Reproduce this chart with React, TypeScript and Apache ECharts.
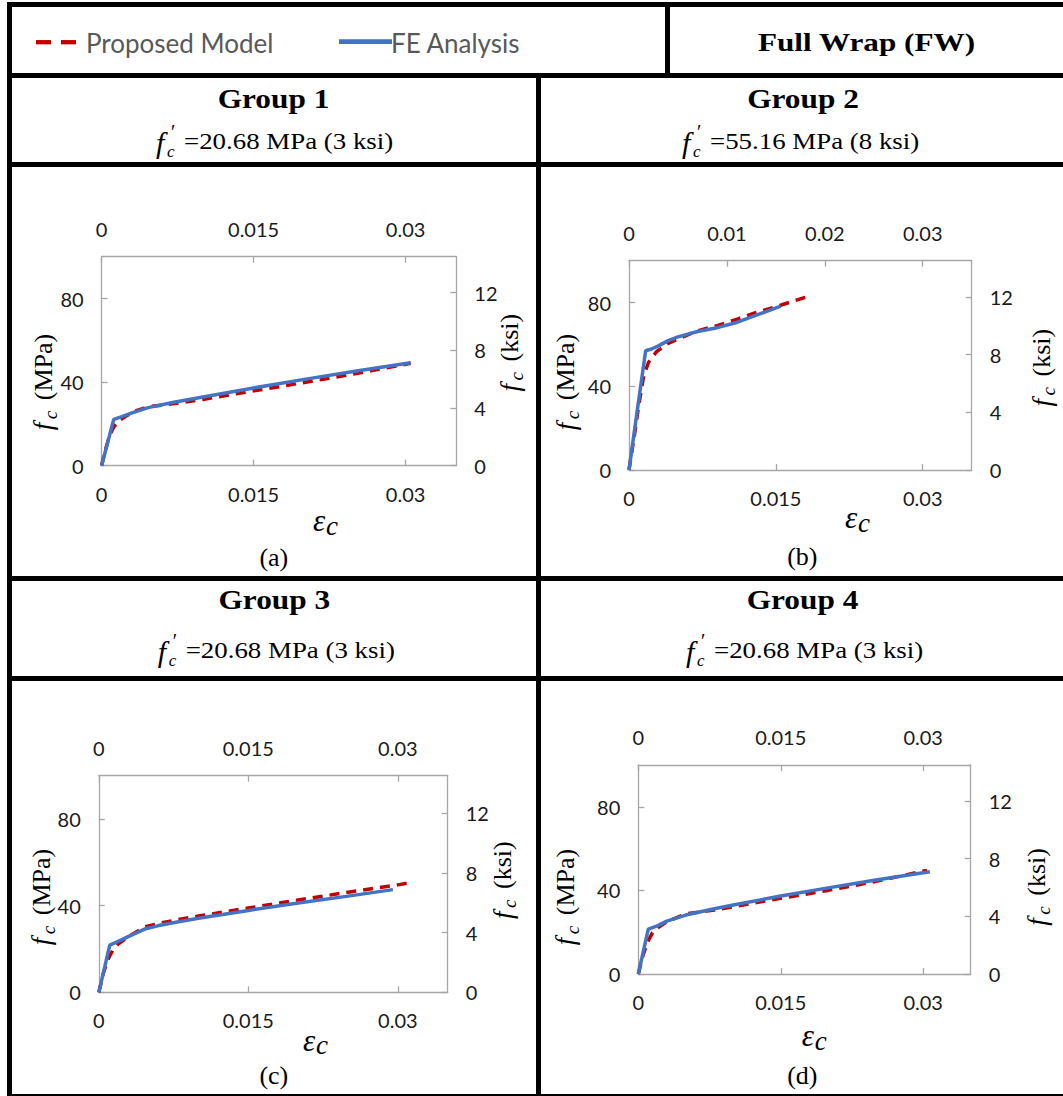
import React, { useEffect, useRef } from "react";
import * as echarts from "echarts";

// ---------- data (strain, stress in MPa) ----------
const proposedA: [number, number][] = [
  [0, 0], [0.0004, 8], [0.0008, 14.5], [0.0012, 18.5], [0.0017, 21.5], [0.0025, 24],
  [0.0035, 26.5], [0.0046, 28.2], [0.007, 29.6], [0.01, 31.7], [0.015, 35.8],
  [0.02, 39.8], [0.025, 44.0], [0.0305, 49.0],
];
const feA: [number, number][] = [
  [0, 0], [0.0012, 22.2], [0.002, 23.5], [0.003, 25.3], [0.0046, 27.8], [0.007, 30.2],
  [0.01, 32.9], [0.015, 37.2], [0.02, 41.3], [0.025, 45.2], [0.0305, 49.3],
];
const proposedB: [number, number][] = [
  [0, 0], [0.0005, 15], [0.001, 31], [0.0015, 45], [0.002, 51.5], [0.0028, 56.5],
  [0.004, 60.5], [0.005, 62.6], [0.007, 66.5], [0.009, 69], [0.011, 72], [0.013, 75.3],
  [0.0154, 78.6], [0.018, 82.5],
];
const feB: [number, number][] = [
  [0, 0], [0.0008, 27], [0.0017, 57], [0.0023, 57.8], [0.003, 59.3], [0.004, 61.8],
  [0.005, 63.6], [0.007, 66.2], [0.009, 68], [0.011, 70.5], [0.013, 74], [0.0155, 78.3],
];
const proposedC: [number, number][] = [
  [0, 0], [0.0005, 9.5], [0.001, 16], [0.0015, 20.2], [0.002, 22.5], [0.003, 25.8],
  [0.0046, 30.2], [0.006, 31.8], [0.008, 33.6], [0.01, 35.2], [0.015, 38.9], [0.02, 42.6],
  [0.025, 46.2], [0.03, 49.6], [0.0312, 50.6],
];
const feC: [number, number][] = [
  [0, 0], [0.0011, 21.8], [0.002, 23.6], [0.003, 25.8], [0.0046, 29.2], [0.006, 30.8],
  [0.008, 32.6], [0.01, 34.2], [0.015, 37.8], [0.02, 41.2], [0.025, 44.4], [0.0295, 47.4],
];
const proposedD: [number, number][] = [
  [0, 0], [0.0005, 9], [0.001, 15.5], [0.0015, 19.8], [0.002, 22], [0.003, 25],
  [0.005, 28.8], [0.008, 30.6], [0.01, 32.2], [0.015, 36.2], [0.02, 40], [0.025, 44.3],
  [0.0304, 49.6],
];
const feD: [number, number][] = [
  [0, 0], [0.00105, 21.5], [0.002, 23], [0.003, 25.3], [0.005, 28.2], [0.008, 31.2],
  [0.01, 33], [0.015, 37.3], [0.02, 41.2], [0.025, 45], [0.0307, 48.9],
];

// ---------- tick labels ----------
const strainTicks = [0, 0.015, 0.03];
const strainTicksTopB = [0, 0.01, 0.02, 0.03];
const mpaTicks = [0, 40, 80];
const ksiTicks = [0, 4, 8, 12];
const STRAIN_MAX = 0.035;
const MPA_MAX = 100;
const KSI_MAX = 14.5;

// ---------- texts ----------
const legendNames = ["Proposed Model", "FE Analysis"];
const headerTitle = "Full Wrap (FW)";
const groupTitles = ["Group 1", "Group 2", "Group 3", "Group 4"];
const fcTexts = ["=20.68 MPa (3 ksi)", "=55.16 MPa (8 ksi)", "=20.68 MPa (3 ksi)", "=20.68 MPa (3 ksi)"];
const panelLabels = ["(a)", "(b)", "(c)", "(d)"];

const RED = "#C00000";
const BLUE = "#4472C4";
const AXIS = "#A6A6A6";
const SERIF = "Liberation Serif, serif";
const SANS = "Lato, sans-serif";

const panels = [
  { grid: [101.6, 256.7, 354.7, 209], topTicks: strainTicks, proposed: proposedA, fe: feA,
    lt: [43, 381.7], rt: [509.6, 352.5], eps: [313, 520.5], lab: [273.8, 557.5],
    head: [273.5, 99], sub: [155, 141] },
  { grid: [629, 260.7, 342.7, 209.3], topTicks: strainTicksTopB, proposed: proposedB, fe: feB,
    lt: [565.5, 381.7], rt: [1041.7, 367.5], eps: [845, 517.5], lab: [802.3, 556.7],
    head: [803, 99], sub: [681, 141] },
  { grid: [98.8, 775.7, 348.9, 216.6], topTicks: strainTicks, proposed: proposedC, fe: feC,
    lt: [41.3, 896.7], rt: [502.8, 880], eps: [303, 1040], lab: [273.8, 1075.8],
    head: [274.3, 600], sub: [156.7, 650] },
  { grid: [638.3, 765, 332.4, 209], topTicks: strainTicks, proposed: proposedD, fe: feD,
    lt: [565, 896.7], rt: [1036.7, 886.7], eps: [801.7, 1035.5], lab: [802.3, 1075],
    head: [802.5, 600], sub: [685, 650] },
];

function T(x: number, y: number, text: string, size: number, opt: any = {}) {
  return {
    type: "text",
    x,
    y,
    silent: true,
    scaleX: opt.sx ?? 1,
    scaleY: opt.sy ?? 1,
    rotation: opt.rot ?? 0,
    style: {
      text,
      fill: opt.color ?? "#000",
      fontSize: size,
      fontFamily: opt.family ?? SERIF,
      fontWeight: opt.bold ? "bold" : "normal",
      fontStyle: opt.italic ? "italic" : "normal",
      align: opt.align ?? "center",
      verticalAlign: opt.va ?? "middle",
    },
  };
}

function rotTitle(cx: number, cy: number, unit: string) {
  const len = unit === "MPa" ? 97 : 78;
  const x0 = -len / 2;
  return {
    type: "group",
    x: cx,
    y: cy,
    rotation: Math.PI / 2,
    children: [
      T(x0, 0, "f", 27, { italic: true, align: "left" }),
      T(x0 + 11, 7, "c", 19, { italic: true, align: "left" }),
      T(x0 + 30, 0, `(${unit})`, 26, { align: "left" }),
    ],
  };
}

function epsTitle(x0: number, cy: number) {
  return [
    T(x0, cy, "ε", 31, { italic: true, align: "left" }),
    T(x0 + 13, cy + 5, "c", 27, { italic: true, align: "left" }),
  ];
}

function fcSub(x0: number, cy: number, rest: string) {
  return [
    T(x0 + 1, cy + 1, "f", 30, { italic: true, align: "left" }),
    T(x0 + 16, cy - 9, "′", 20, { align: "left" }),
    T(x0 + 12, cy + 10, "c", 17, { italic: true, align: "left" }),
    T(x0 + 29, cy, rest, 24, { align: "left", sx: 1.12 }),
  ];
}

function rect(x: number, y: number, w: number, h: number) {
  return { type: "rect", silent: true, shape: { x, y, width: w, height: h }, style: { fill: "#000" } };
}

const fmtStrain = (v: number) => (v === 0 ? "0" : String(parseFloat(v.toFixed(4))));

function baseAxis(extra: any) {
  return {
    type: "value",
    axisLine: { show: true, onZero: false, lineStyle: { color: AXIS, width: 1.3 } },
    axisTick: { show: true, inside: true, length: 6, lineStyle: { color: AXIS, width: 1.3 } },
    splitLine: { show: false },
    axisLabel: {
      color: "#1a1a1a",
      fontFamily: SANS,
      fontSize: 20,
      margin: 18,
      showMaxLabel: false,
      showMinLabel: true,
    },
    ...extra,
  };
}

export default function App() {
  const ref = useRef<HTMLDivElement>(null);

  useEffect(() => {
    if (!ref.current) return;
    const chart = echarts.init(ref.current, undefined, { renderer: "svg" });

    const grid: any[] = [];
    const xAxis: any[] = [];
    const yAxis: any[] = [];
    const series: any[] = [];
    const graphic: any[] = [];

    panels.forEach((p, i) => {
      const [l, t, w, h] = p.grid;
      grid.push({ left: l, top: t, width: w, height: h, containLabel: false, outerBoundsMode: "none" });
      const xb = baseAxis({
        gridIndex: i, position: "bottom", min: 0, max: STRAIN_MAX,
        interval: strainTicks[1] - strainTicks[0],
      });
      xb.axisLabel = { ...xb.axisLabel, formatter: fmtStrain };
      const xt = baseAxis({
        gridIndex: i, position: "top", min: 0, max: STRAIN_MAX,
        interval: p.topTicks[1] - p.topTicks[0],
      });
      xt.axisLabel = { ...xt.axisLabel, formatter: fmtStrain };
      xAxis.push(xb, xt);
      yAxis.push(
        baseAxis({ gridIndex: i, position: "left", min: 0, max: MPA_MAX, interval: mpaTicks[1] - mpaTicks[0] }),
        baseAxis({ gridIndex: i, position: "right", min: 0, max: KSI_MAX, interval: ksiTicks[1] - ksiTicks[0] })
      );
      series.push(
        {
          type: "line", name: legendNames[0], xAxisIndex: 2 * i, yAxisIndex: 2 * i,
          data: p.proposed, showSymbol: false, symbol: "none", silent: true, z: 2,
          lineStyle: { color: RED, width: 3.5, type: [10, 7] },
        },
        {
          type: "line", name: legendNames[1], xAxisIndex: 2 * i, yAxisIndex: 2 * i,
          data: p.fe, showSymbol: false, symbol: "none", silent: true, z: 3,
          lineStyle: { color: BLUE, width: 3.5 },
        }
      );
      graphic.push(rotTitle(p.lt[0], p.lt[1], "MPa"));
      graphic.push(rotTitle(p.rt[0], p.rt[1], "ksi"));
      graphic.push(...epsTitle(p.eps[0], p.eps[1]));
      graphic.push(T(p.lab[0], p.lab[1], panelLabels[i], 26));
      graphic.push(T(p.head[0], p.head[1], groupTitles[i], 27, { bold: true, sx: 1.16 }));
      graphic.push(...fcSub(p.sub[0], p.sub[1], fcTexts[i]));
    });

    // table lines
    graphic.push(
      rect(7, 2, 1056, 5),
      rect(7, 2, 5, 1094),
      rect(7, 73, 1056, 5),
      rect(7, 162, 1056, 5),
      rect(7, 576, 1056, 5),
      rect(7, 676, 1056, 5),
      rect(7, 1094, 1056, 5),
      rect(665, 2, 5, 76),
      rect(536, 73, 5, 1023)
    );

    // legend
    graphic.push(
      { type: "line", silent: true, shape: { x1: 36, y1: 42.2, x2: 51, y2: 42.2 }, style: { stroke: RED, lineWidth: 4.3 } },
      { type: "line", silent: true, shape: { x1: 61, y1: 42.2, x2: 76, y2: 42.2 }, style: { stroke: RED, lineWidth: 4.3 } },
      { type: "line", silent: true, shape: { x1: 339, y1: 41.7, x2: 392, y2: 41.7 }, style: { stroke: BLUE, lineWidth: 4.7 } },
      T(86, 43, legendNames[0], 26, { family: SANS, align: "left", color: "#595959" }),
      T(391, 43, legendNames[1], 26, { family: SANS, align: "left", color: "#595959" }),
      T(866.5, 41.7, headerTitle, 26, { bold: true, sx: 1.2 })
    );

    chart.setOption({
      animation: false,
      backgroundColor: "#fff",
      grid,
      xAxis,
      yAxis,
      series,
      graphic: { elements: graphic },
    });

    return () => chart.dispose();
  }, []);

  return (
    <div
      ref={ref}
      style={{ position: "absolute", left: 0, top: 0, width: 1063, height: 1096, background: "#fff" }}
    />
  );
}
